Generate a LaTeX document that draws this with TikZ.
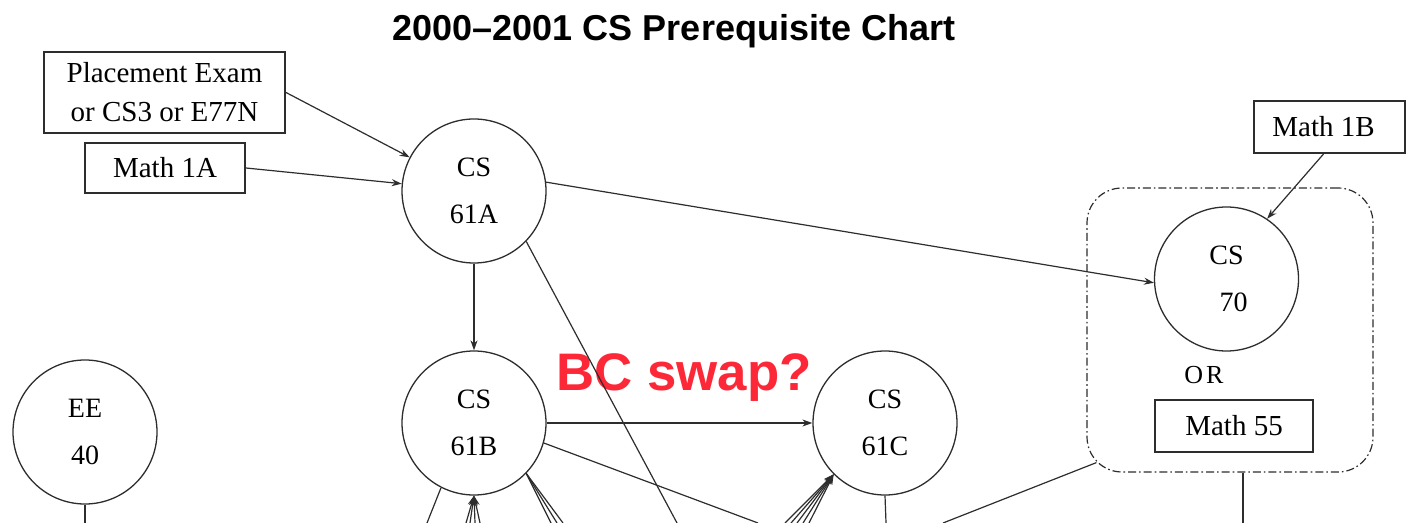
\documentclass[tikz,border=0pt]{standalone}
\usepackage{fontspec}
\setmainfont{Liberation Serif}
\newfontfamily\headfont{Liberation Sans}
\usetikzlibrary{arrows.meta}
\definecolor{inkgray}{RGB}{45,45,45}
\definecolor{swapred}{RGB}{252,40,56}
\begin{document}
\begin{tikzpicture}[x=0.5pt,y=-0.5pt,
  course/.style={circle,draw=inkgray,line width=0.65pt,minimum size=72pt,inner sep=0pt,align=center,font=\fontsize{14}{23.5}\selectfont},
  reqbox/.style={rectangle,draw=inkgray,line width=1pt,inner sep=0pt,align=center,font=\fontsize{14.5}{19.5}\selectfont},
  grpbox/.style={rectangle,draw=inkgray,line width=0.6pt,rounded corners=17.5pt,dash pattern=on 4pt off 1.5pt on 0.8pt off 1.5pt,minimum width=143pt,minimum height=142pt,inner sep=0pt},
  link/.style={draw=inkgray,line width=0.6pt},
  arr/.style={link,-{Stealth[length=5pt,width=3.5pt]}},
  headline/.style={font=\headfont\bfseries\fontsize{18}{20}\selectfont,text=black},
  remark/.style={font=\headfont\bfseries\fontsize{26.4}{28}\selectfont,text=swapred}]
\useasboundingbox (0,0) rectangle (1406,523);
\fill[white] (0,0) rectangle (1406,523);

\node[headline] (title) at (674,31) {2000–2001 CS Prerequisite Chart};

\node[reqbox,minimum width=120.5pt,minimum height=40.5pt] (place) at (164.5,92.5) {Placement Exam\\or CS3 or E77N};
\node[reqbox,minimum width=80pt,minimum height=25pt] (m1a) at (165,168) {Math 1A};
\node[reqbox,minimum width=75.5pt,minimum height=26pt] (m1b) at (1329.5,127) {Math 1B\hspace*{6pt}};
\node[grpbox] (grp) at (1230,330) {};
\node[reqbox,minimum width=79pt,minimum height=26pt] (m55) at (1234,426) {Math 55};
\node[font=\fontsize{13}{15}\selectfont] (or) at (1204,375) {O\kern1.5pt R};

\node[course] (cs61a) at (474,191) {CS\\61A};
\node[course] (cs61b) at (474,423) {CS\\61B};
\node[course] (cs61c) at (885,423) {CS\\61C};
\node[course] (cs70) at (1226.5,279) {CS\\\hspace*{7pt}70};
\node[course] (ee40) at (85,432) {EE\\40};

\node[remark] (swap) at (684,378) {BC swap?};

% free ends at the lower edge
\coordinate (a1) at (677,523);
\coordinate (b1) at (758,523);
\coordinate (b2) at (427,523);
\coordinate (f1) at (466,523);
\coordinate (f2) at (470,523);
\coordinate (f3) at (475,523);
\coordinate (f4) at (480,523);
\coordinate (r1) at (551,523);
\coordinate (r2) at (557,523);
\coordinate (r3) at (563,523);
\coordinate (c1) at (785,523);
\coordinate (c2) at (791,523);
\coordinate (c3) at (797,523);
\coordinate (c4) at (803,523);
\coordinate (c5) at (809,523);
\coordinate (c6) at (886,523);
\coordinate (g1) at (943,523);
\coordinate (g2) at (1243,523);
\coordinate (e1) at (85,523);

\draw[arr] (place.east) -- (cs61a);
\draw[arr] (m1a.east) -- (cs61a);
\draw[arr] (cs61a.7) -- (cs70.183);
\draw[arr] ([xshift=-3pt]m1b.south) -- (cs70.56);
\draw[arr] (cs61a) -- (cs61b);
\draw[link] (cs61a.-44) -- (a1);
\draw[arr] (cs61b) -- (cs61c);
\draw[link] (cs61b.-16) -- (b1);
\draw[link] (cs61b.-117) -- (b2);
\foreach \p in {f1,f2,f3,f4} \draw[arr] (\p) -- (cs61b.south);
\foreach \p in {r1,r2,r3} \draw[link] (cs61b.-44) -- (\p);
\foreach \p in {c1,c2,c3,c4,c5} \draw[arr] (\p) -- (cs61c.-135);
\draw[link] (cs61c.south) -- (c6);
\draw[link] ([shift={(10,-10)}]grp.south west) -- (g1);
\draw[link] ([xshift=6.5pt]grp.south) -- (g2);
\draw[link] (ee40.south) -- (e1);
\end{tikzpicture}
\end{document}
